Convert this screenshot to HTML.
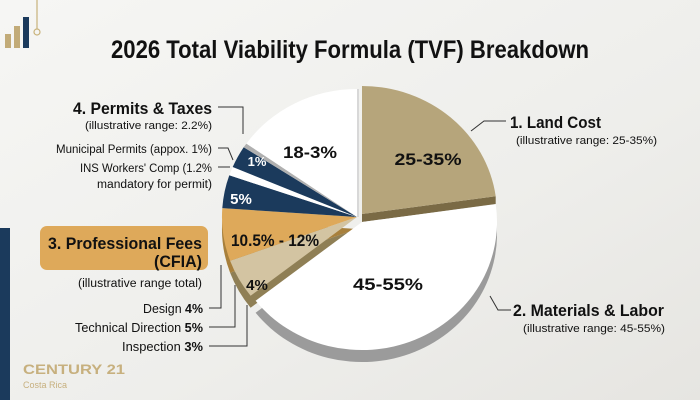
<!DOCTYPE html>
<html><head><meta charset="utf-8"><style>
html,body{margin:0;padding:0;width:700px;height:400px;overflow:hidden;background:#f1f1ef;}
svg{display:block}
text{font-family:"Liberation Sans",sans-serif;}
</style></head><body>
<svg width="700" height="400" viewBox="0 0 700 400" xmlns="http://www.w3.org/2000/svg">
<defs>
<linearGradient id="bg" x1="0" y1="0" x2="1" y2="1">
<stop offset="0" stop-color="#f6f6f4"/><stop offset="0.6" stop-color="#eeeeeb"/><stop offset="1" stop-color="#e6e5e1"/>
</linearGradient>
</defs>
<rect width="700" height="400" fill="url(#bg)"/>
<rect x="0" y="228" width="10" height="172" fill="#1b3a5c"/>
<line x1="37" y1="0" x2="37" y2="29" stroke="#c8b27a" stroke-width="1.2"/>
<circle cx="37" cy="32" r="3" fill="none" stroke="#c8b27a" stroke-width="1.2"/>
<rect x="5" y="34" width="6" height="14" fill="#c2ab78"/>
<rect x="14" y="26" width="6" height="22" fill="#c2ab78"/>
<rect x="23" y="17" width="6" height="31" fill="#1b3a5c"/>

<text x="350" y="58" text-anchor="middle" font-size="25" font-weight="bold" fill="#111" textLength="478" lengthAdjust="spacingAndGlyphs">2026 Total Viability Formula (TVF) Breakdown</text>

<!-- depth -->
<g transform="translate(0,12)">
<path d="M362,222 L495.7,204.2 A135 128 0 0 1 255.6,300.8 Z" fill="#9b9b9b"/>
<path d="M357,217 L250.6,295.8 A135 128 0 0 1 230.1,260.8 Z" fill="#8f7f55"/>
<path d="M357,217 L230.1,260.8 A135 128 0 0 1 222.3,208.1 Z" fill="#a8803c"/>
</g>
<path d="M362,214 L495.7,196.2 L495.7,204 L362,222 Z" fill="#7a6a45"/>
<!-- slices -->
<path d="M362,214 L362,86 A135 128 0 0 1 495.7,196.2 Z" fill="#b6a57b"/>
<path d="M362,222 L495.7,204.2 A135 128 0 0 1 255.6,300.8 Z" fill="#ffffff"/>
<path d="M357,217 L250.6,295.8 A135 128 0 0 1 230.1,260.8 Z" fill="#d3c4a2"/>
<path d="M357,217 L230.1,260.8 A135 128 0 0 1 222.3,208.1 Z" fill="#dea95a"/>
<path d="M357,217 L222.3,208.1 A135 128 0 0 1 229.3,175.3 Z" fill="#1b3a5c"/>
<path d="M357,217 L229.3,175.3 A135 128 0 0 1 232.7,167 Z" fill="#ffffff"/>
<path d="M357,217 L232.7,167 A135 128 0 0 1 243.7,147.2 Z" fill="#1b3a5c"/>
<path d="M357,217 L243.7,147.2 A135 128 0 0 1 246.4,143.6 Z" fill="#b0b0b0"/>
<path d="M357,217 L246.4,143.6 A135 128 0 0 1 357,89 Z" fill="#ffffff"/>
<line x1="358" y1="89" x2="358" y2="217" stroke="#d8d8d8" stroke-width="2"/>

<g font-weight="bold" font-size="17" fill="#111">
<text x="428" y="165" text-anchor="middle" textLength="67" lengthAdjust="spacingAndGlyphs">25-35%</text>
<text x="310" y="158" text-anchor="middle" textLength="54" lengthAdjust="spacingAndGlyphs">18-3%</text>
<text x="388" y="290" text-anchor="middle" textLength="70" lengthAdjust="spacingAndGlyphs">45-55%</text>
<text x="275" y="246" text-anchor="middle" textLength="88" lengthAdjust="spacingAndGlyphs">10.5% - 12%</text>
<text x="257" y="290" text-anchor="middle" font-size="15">4%</text>
<text x="241" y="204" text-anchor="middle" font-size="15" fill="#fff">5%</text>
<text x="257" y="166" text-anchor="middle" font-size="13" fill="#fff">1%</text>
</g>

<g stroke="#333" stroke-width="1" fill="none">
<polyline points="218,107 243,107 243,134"/>
<polyline points="218,148 228,148 233,160"/>
<line x1="218" y1="167" x2="230" y2="167"/>
<polyline points="209,308 221,308 221,265"/>
<polyline points="209,327 235,327 235,285"/>
<polyline points="209,346 247,346 247,305"/>
<polyline points="471,131 484,121 506,121"/>
<polyline points="490,296 498,310 511,310"/>
</g>

<rect x="40" y="226" width="168" height="44" rx="7" fill="#dea95a"/>
<g fill="#111">
<text x="212" y="114" text-anchor="end" font-size="17" font-weight="bold" textLength="139" lengthAdjust="spacingAndGlyphs">4. Permits &amp; Taxes</text>
<text x="212" y="129" text-anchor="end" font-size="11" textLength="127" lengthAdjust="spacingAndGlyphs">(illustrative range: 2.2%)</text>
<text x="212" y="153" text-anchor="end" font-size="11.5" textLength="156" lengthAdjust="spacingAndGlyphs">Municipal Permits (appox. 1%)</text>
<text x="212" y="172" text-anchor="end" font-size="11.5" textLength="132" lengthAdjust="spacingAndGlyphs">INS Workers' Comp (1.2%</text>
<text x="212" y="188" text-anchor="end" font-size="11.5" textLength="115" lengthAdjust="spacingAndGlyphs">mandatory for permit)</text>
<text x="202" y="249" text-anchor="end" font-size="17" font-weight="bold" textLength="154" lengthAdjust="spacingAndGlyphs">3. Professional Fees</text>
<text x="202" y="267" text-anchor="end" font-size="17" font-weight="bold" textLength="48" lengthAdjust="spacingAndGlyphs">(CFIA)</text>
<text x="202" y="287" text-anchor="end" font-size="11.5" textLength="124" lengthAdjust="spacingAndGlyphs">(illustrative range total)</text>
<text x="203" y="313" text-anchor="end" font-size="12.5" textLength="60" lengthAdjust="spacingAndGlyphs">Design <tspan font-weight="bold">4%</tspan></text>
<text x="203" y="332" text-anchor="end" font-size="12.5" textLength="128" lengthAdjust="spacingAndGlyphs">Technical Direction <tspan font-weight="bold">5%</tspan></text>
<text x="203" y="351" text-anchor="end" font-size="12.5" textLength="81" lengthAdjust="spacingAndGlyphs">Inspection <tspan font-weight="bold">3%</tspan></text>
<text x="510" y="128" font-size="17" font-weight="bold" textLength="91" lengthAdjust="spacingAndGlyphs">1. Land Cost</text>
<text x="516" y="144" font-size="11" textLength="141" lengthAdjust="spacingAndGlyphs">(illustrative range: 25-35%)</text>
<text x="513" y="316" font-size="17" font-weight="bold" textLength="151" lengthAdjust="spacingAndGlyphs">2. Materials &amp; Labor</text>
<text x="523" y="332" font-size="11" textLength="142" lengthAdjust="spacingAndGlyphs">(illustrative range: 45-55%)</text>
</g>
<text x="23" y="374" font-size="14" font-weight="bold" fill="#c7b07e" textLength="102" lengthAdjust="spacingAndGlyphs">CENTURY 21</text>
<text x="23" y="388" font-size="9" fill="#c7b07e">Costa Rica</text>
</svg>
</body></html>
